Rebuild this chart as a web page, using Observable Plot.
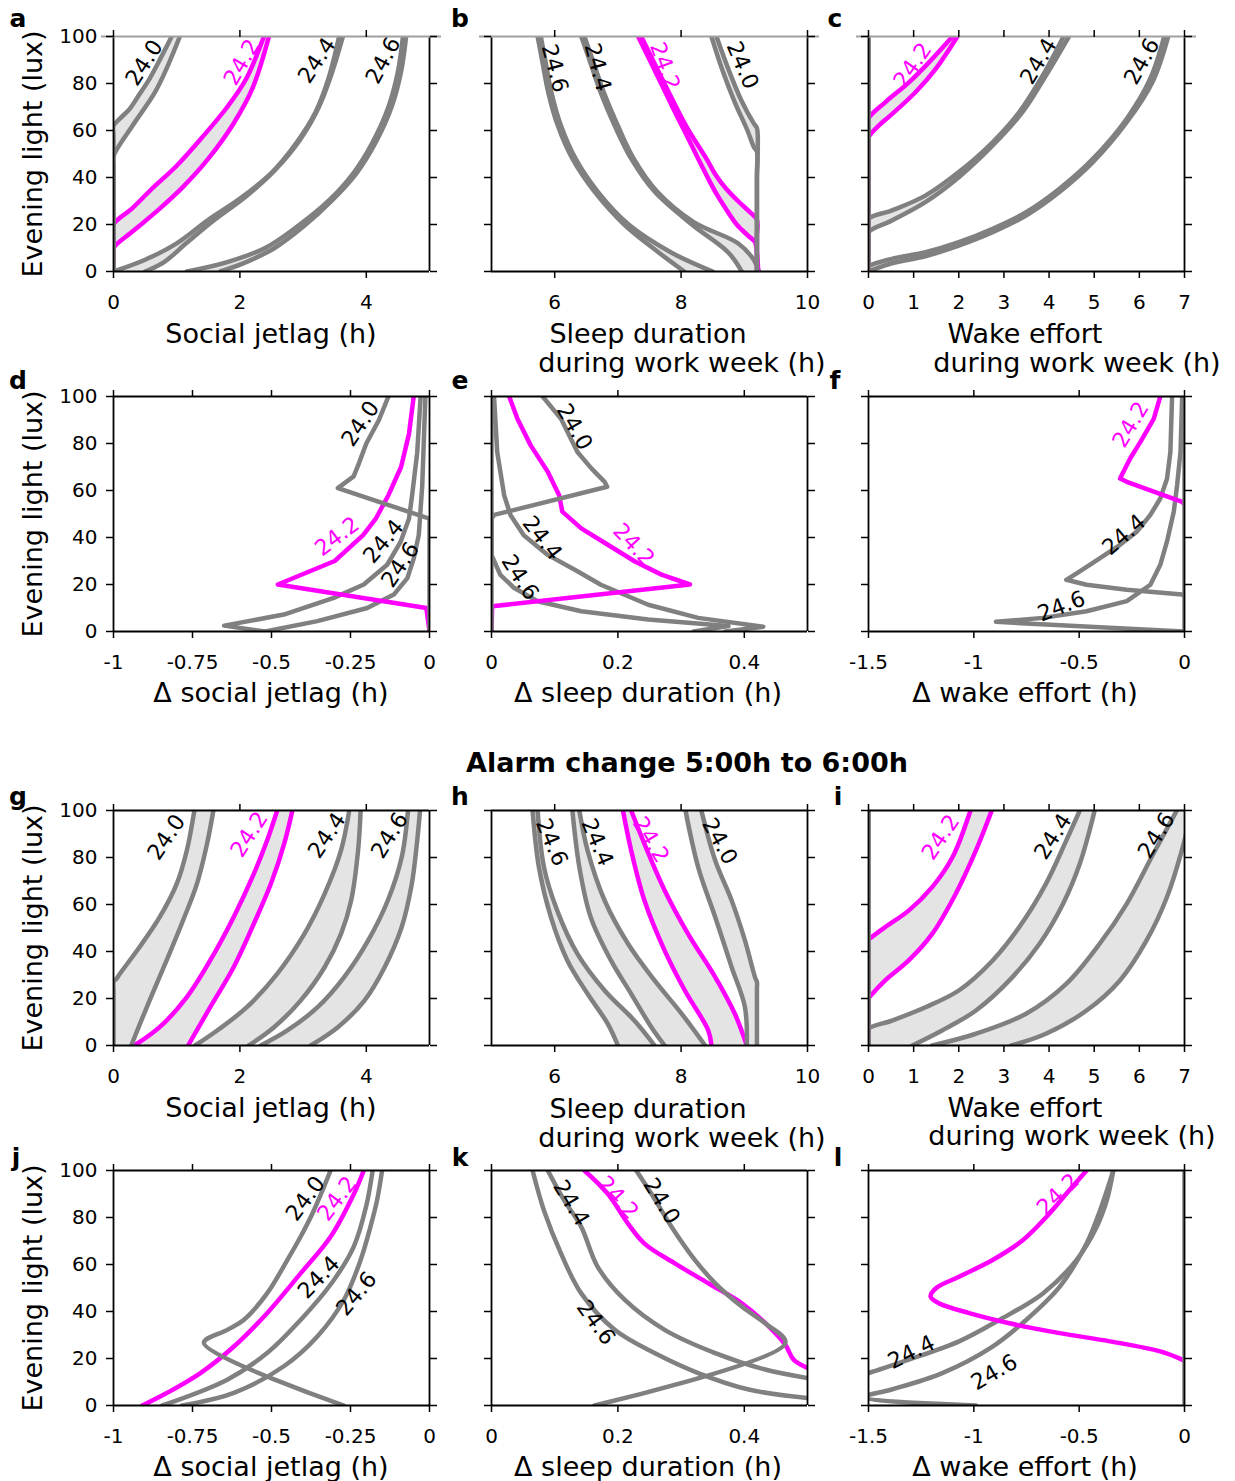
<!DOCTYPE html>
<html><head><meta charset="utf-8">
<script src="https://cdn.jsdelivr.net/npm/d3@7"></script>
<script src="https://cdn.jsdelivr.net/npm/@observablehq/plot@0.6"></script>
<style>
body{margin:0;background:#fff;}
#root{position:relative;width:1235px;height:1481px;background:#fff;font-family:"DejaVu Sans",sans-serif;overflow:hidden;}
.t{position:absolute;white-space:nowrap;transform:translate(-50%,-50%);font-size:27px;color:#000;line-height:1;}
.b{font-weight:bold;}
.L{font-size:25px;}
.p{position:absolute;}
</style></head>
<body><div id="root"></div>
<script>
// ---------- data ----------
const LUX_TICKS = [0, 20, 40, 60, 80, 100];
const LUX_TICK_LABELS = ["0", "20", "40", "60", "80", "100"];
const DRAW_ORDER = ["24.6", "24.4", "24.2", "24.0"];

const ticksSJL = [0, 2, 4], ticksSJLLabels = ["0", "2", "4"];
const ticksSleep = [6, 8, 10], ticksSleepLabels = ["6", "8", "10"];
const ticksWake = [0, 1, 2, 3, 4, 5, 6, 7], ticksWakeLabels = ["0", "1", "2", "3", "4", "5", "6", "7"];
const ticksDSJL = [-1, -0.75, -0.5, -0.25, 0], ticksDSJLLabels = ["-1", "-0.75", "-0.5", "-0.25", "0"];
const ticksDSleep = [0, 0.2, 0.4], ticksDSleepLabels = ["0", "0.2", "0.4"];
const ticksDWake = [-1.5, -1, -0.5, 0], ticksDWakeLabels = ["-1.5", "-1", "-0.5", "0"];

// pairs: [tau, boundary 1 [[x, lux]...], boundary 2]
const panelA = [
  ["24.0", [[0,0],[0,58],[0,62],[0.1,65],[0.25,69],[0.4,75],[0.57,82],[0.75,91],[0.92,100]],
           [[0,0],[0,45],[0,49],[0.3,62],[0.65,76],[0.85,87],[1.05,100]]],
  ["24.2", [[0,0],[0,16],[0,20],[0.3,27],[0.6,35],[1.0,45],[1.4,57],[1.8,70],[2.1,82],[2.38,100]],
           [[0,0],[0,7],[0,10],[0.3,17],[0.7,26],[1.1,36],[1.5,48],[1.9,63],[2.2,78],[2.46,100]]],
  ["24.4", [[0,0],[0.5,5],[1.0,12],[1.5,22],[2.0,31],[2.5,42],[2.9,55],[3.2,68],[3.4,82],[3.57,100]],
           [[0.5,0],[0.8,4],[1.15,12],[1.6,22],[2.1,32],[2.55,43],[2.95,56],[3.25,70],[3.45,84],[3.63,100]]],
  ["24.6", [[1.16,0],[1.8,4],[2.4,10],[2.9,19],[3.4,30],[3.8,42],[4.1,55],[4.35,70],[4.5,85],[4.58,100]],
           [[1.69,0],[2.1,4],[2.55,10],[3.0,19],[3.45,30],[3.85,42],[4.15,55],[4.4,70],[4.55,85],[4.63,100]]]
];
const panelB = [
  ["24.0", [[9.2,0],[9.2,40],[9.2,61],[9.15,63],[8.95,73],[8.75,86],[8.56,100]],
           [[9.2,0],[9.2,40],[9.2,51],[9.15,53],[9.05,60],[8.85,72],[8.65,86],[8.48,100]]],
  ["24.2", [[9.2,0],[9.2,15],[9.2,22],[9.1,25],[8.9,30],[8.72,35],[8.55,41],[8.4,48],[8.12,60],[7.96,68],[7.68,83],[7.37,100]],
           [[9.22,0],[9.2,8],[9.17,12.5],[9.05,15.5],[8.88,20],[8.7,27],[8.56,33],[8.42,40],[8.27,48],[8.05,60],[7.9,68],[7.63,83],[7.32,100]]],
  ["24.4", [[8.96,0],[8.75,8],[8.17,20],[7.58,34],[7.21,48],[6.95,62],[6.73,76],[6.55,90],[6.42,100]],
           [[9.23,0],[9.15,5],[8.9,12],[8.2,21],[7.62,34],[7.25,48],[7.0,62],[6.78,76],[6.6,90],[6.47,100]]],
  ["24.6", [[8.05,0],[7.65,8],[7.1,20],[6.63,34],[6.28,48],[6.05,62],[5.9,76],[5.8,90],[5.73,100]],
           [[8.5,0],[7.85,8],[7.17,20],[6.68,34],[6.33,48],[6.1,62],[5.95,76],[5.85,90],[5.78,100]]]
];
const panelC = [
  ["24.0", [[0,0],[0,100]], [[0,0],[0,100]]],
  ["24.2", [[0,0],[0,60],[0,65],[0.37,72],[0.89,80.4],[1.34,89],[1.86,100]],
           [[0,0],[0,53],[0,57],[0.22,62],[0.52,67],[1.04,76.3],[1.48,86],[1.97,100]]],
  ["24.4", [[0,0],[0,19],[0,22.4],[0.52,26],[1.26,32.3],[2.0,42.3],[2.75,55],[3.34,67.8],[3.86,83.4],[4.32,100]],
           [[0,0],[0,13],[0,16.7],[0.52,21.7],[1.26,29.5],[2.0,40.1],[2.75,53.6],[3.41,67.8],[3.93,83.4],[4.44,100]]],
  ["24.6", [[0,0],[0,2],[0.52,5.4],[1.26,8.2],[2.0,12.5],[2.75,18.2],[3.49,25.2],[4.23,35.2],[4.97,47.9],[5.72,65],[6.24,82],[6.55,100]],
           [[0,0],[0.52,3.5],[1.26,6.5],[2.0,11],[2.75,16.7],[3.49,23.8],[4.23,33.8],[4.97,46.5],[5.72,63.5],[6.3,81],[6.64,100]]]
];
// single curves: [tau, [[x, lux]...]]
const panelD = [
  ["24.0", [[-0.13,100],[-0.16,90],[-0.2,80],[-0.225,71],[-0.24,66],[-0.29,61],[0,48],[0,0]]],
  ["24.2", [[-0.05,100],[-0.065,84],[-0.09,70],[-0.13,58],[-0.17,48],[-0.21,41],[-0.3,30],[-0.48,20],[-0.01,10],[0,0]]],
  ["24.4", [[-0.028,100],[-0.039,76],[-0.055,58],[-0.065,48],[-0.092,38],[-0.134,28.4],[-0.208,20],[-0.303,14.3],[-0.461,7.2],[-0.65,2.5],[-0.52,0]]],
  ["24.6", [[-0.013,100],[-0.023,62],[-0.034,41],[-0.05,31],[-0.07,22.7],[-0.113,15.7],[-0.197,10],[-0.355,4.4],[-0.52,0]]]
];
const panelE = [
  ["24.0", [[0.081,100],[0.11,90.5],[0.136,76.4],[0.158,69.4],[0.179,63.7],[0.183,61.6],[0.004,49.6],[0,48],[0,0]]],
  ["24.2", [[0.028,100],[0.041,90.5],[0.062,79.2],[0.089,68],[0.107,58],[0.112,51],[0.142,43.9],[0.184,36.9],[0.227,29.8],[0.269,24.2],[0.314,20],[0.001,10.7],[0,0]]],
  ["24.4", [[0.004,100],[0.009,76.4],[0.02,58],[0.03,49.6],[0.051,41],[0.089,32.6],[0.136,25.6],[0.173,19.9],[0.248,11.4],[0.327,5.8],[0.43,2],[0.37,0]]],
  ["24.6", [[0,100],[0,32.6],[0.014,24.1],[0.036,18.5],[0.073,12.9],[0.142,8.6],[0.248,5.1],[0.375,2.3],[0.32,0]]]
];
const panelF = [
  ["24.0", [[0,0],[0,100]]],
  ["24.2", [[-0.115,100],[-0.146,90.5],[-0.21,80.6],[-0.258,73.6],[-0.282,69.4],[-0.306,65.1],[-0.274,63.7],[-0.011,55.2],[0,54]]],
  ["24.4", [[-0.059,100],[-0.067,76.4],[-0.083,65],[-0.115,56.6],[-0.162,49.6],[-0.226,42.5],[-0.306,36.9],[-0.401,31.2],[-0.497,25.6],[-0.561,22],[-0.465,19.9],[-0.274,17.8],[-0.011,15.7],[0,15]]],
  ["24.6", [[-0.011,100],[-0.019,76.4],[-0.035,62.3],[-0.051,51],[-0.083,38.3],[-0.115,28.4],[-0.162,19.9],[-0.274,12.9],[-0.465,8.6],[-0.672,5.8],[-0.895,4.1],[0,0]]]
];
const panelG = [
  ["24.0", [[0,0],[0,24],[0,27],[0.05,28.5],[0.1,30.5],[0.41,41.8],[0.73,54.6],[1.0,68.8],[1.16,83],[1.28,100]],
           [[0.28,0],[0.57,19.1],[0.84,36.2],[1.1,53.2],[1.32,68.8],[1.48,85.8],[1.58,100]]],
  ["24.2", [[0.33,0],[0.73,7.8],[1.16,20.6],[1.53,36.2],[1.9,54.6],[2.22,73],[2.43,87.2],[2.59,100]],
           [[1.18,0],[1.53,16.3],[1.9,33.3],[2.22,51.8],[2.49,68.8],[2.7,85.8],[2.83,100]]],
  ["24.4", [[1.29,0],[1.64,6.4],[2.11,16.3],[2.59,30.5],[3.02,47.5],[3.34,64.5],[3.6,83],[3.73,100]],
           [[2.14,0],[2.54,7.8],[2.96,19.1],[3.34,33.3],[3.6,47.5],[3.76,61.7],[3.87,83],[3.91,100]]],
  ["24.6", [[2.33,0],[2.75,6.4],[3.23,16.3],[3.65,29.1],[4.03,44.7],[4.34,61.7],[4.56,80.1],[4.66,100]],
           [[3.12,0],[3.55,7.8],[3.97,19.1],[4.29,33.3],[4.56,50.4],[4.72,68.8],[4.8,85.8],[4.85,100]]]
];
const panelH = [
  ["24.0", [[9.04,0],[9.01,16.3],[8.8,33.3],[8.54,54.6],[8.27,75.9],[8.07,100]],
           [[9.2,0],[9.2,24],[9.2,27],[9.17,29],[9.01,44.7],[8.8,61.7],[8.54,78.7],[8.32,100]]],
  ["24.2", [[8.48,0],[8.43,6.4],[8.06,23.4],[7.74,40.4],[7.42,61.7],[7.21,83],[7.08,100]],
           [[9.04,0],[8.85,13.5],[8.54,29.1],[8.11,47.5],[7.74,66],[7.42,85.8],[7.21,100]]],
  ["24.4", [[7.74,0],[7.53,7.8],[7.21,22],[6.89,36.2],[6.57,54.6],[6.39,75.9],[6.28,100]],
           [[8.38,0],[8.01,13.5],[7.58,27.7],[7.16,43.3],[6.79,61.7],[6.52,83],[6.39,100]]],
  ["24.6", [[7.0,0],[6.84,9.2],[6.52,22],[6.2,36.2],[5.94,54.6],[5.75,75.9],[5.65,100]],
           [[7.58,0],[7.26,10.6],[6.79,23.4],[6.36,39],[6.04,57.4],[5.83,75.9],[5.73,100]]]
];
const panelI = [
  ["24.0", [[0,0],[0,100]], [[0,0],[0,100]]],
  ["24.2", [[0,0],[0,41],[0,45],[0.06,46],[0.37,50.4],[0.89,57.4],[1.41,67.4],[1.86,80.1],[2.26,100]],
           [[0,0],[0,16],[0,20],[0.04,21],[0.37,27.7],[0.89,36.2],[1.41,47.5],[1.93,64.5],[2.38,83],[2.73,100]]],
  ["24.4", [[0,0],[0,4.5],[0,7.1],[0.52,10.6],[1.26,16.3],[2.0,23.4],[2.75,36.2],[3.34,50.4],[3.93,68.8],[4.38,87.2],[4.68,100]],
           [[0.97,0],[1.63,6.4],[2.38,14.9],[3.12,27.7],[3.79,43.3],[4.31,60.3],[4.68,77.3],[5.01,100]]],
  ["24.6", [[1.41,0],[2.38,5],[3.49,13.5],[4.38,26.2],[5.12,43.3],[5.72,60.3],[6.31,81.6],[6.83,100]],
           [[3.16,0],[3.93,5],[4.83,14.9],[5.57,27.7],[6.16,44.7],[6.61,63.1],[6.98,85.8],[7.15,100]]]
];
const panelJ = [
  ["24.0", [[-0.313,100],[-0.366,83],[-0.408,71.8],[-0.45,61.9],[-0.514,47.7],[-0.588,36.4],[-0.64,32.2],[-0.714,26.6],[-0.271,0]]],
  ["24.2", [[-0.208,100],[-0.239,90.1],[-0.313,71.8],[-0.408,56.2],[-0.514,39.3],[-0.619,25.1],[-0.725,13.8],[-0.83,5.4],[-0.909,0]]],
  ["24.4", [[-0.18,100],[-0.2,85],[-0.24,67.5],[-0.31,52],[-0.408,36.4],[-0.514,22.3],[-0.64,11],[-0.846,0]]],
  ["24.6", [[-0.15,100],[-0.166,87.3],[-0.187,76],[-0.218,61.9],[-0.271,44.9],[-0.355,29.4],[-0.461,16.7],[-0.619,5.4],[-0.783,0]]]
];
const panelK = [
  ["24.0", [[0.229,100],[0.253,90.1],[0.285,76],[0.322,61.9],[0.354,52],[0.396,42.1],[0.433,35],[0.465,26.6],[0.163,0]]],
  ["24.2", [[0.147,100],[0.184,90.1],[0.216,77.4],[0.242,68.9],[0.29,60.5],[0.343,52],[0.396,43.5],[0.439,33.6],[0.465,25.8],[0.478,19.5],[0.5,16]]],
  ["24.4", [[0.089,100],[0.115,87.3],[0.142,76],[0.168,59],[0.211,44.9],[0.274,32.2],[0.354,22.3],[0.433,15.3],[0.5,11.7]]],
  ["24.6", [[0.065,100],[0.083,83],[0.11,64.7],[0.142,47.7],[0.195,32.2],[0.258,22.3],[0.327,13.8],[0.407,6.8],[0.5,3.2]]]
];
const panelL = [
  ["24.0", [[0,0],[0,100]]],
  ["24.2", [[-0.465,100],[-0.561,90.1],[-0.656,80.2],[-0.768,70.3],[-0.911,61.9],[-1.07,54.8],[-1.18,49.9],[-1.205,46.3],[-1.166,43.5],[-1.022,39.3],[-0.831,35],[-0.592,30.8],[-0.354,27.3],[-0.115,23],[-0.011,19.5],[0,19]]],
  ["24.4", [[-0.338,100],[-0.369,87.3],[-0.417,76],[-0.513,61.9],[-0.672,47.7],[-0.879,36.4],[-1.07,27.3],[-1.309,19.5],[-1.5,13.8],[-1.6,11.5]]],
  ["24.6", [[-0.338,100],[-0.401,83],[-0.465,68.9],[-0.592,50.6],[-0.752,36.4],[-0.911,25.1],[-1.15,13.8],[-1.39,6.8],[-1.53,3.4],[-0.99,0]]]
];

// curve labels: [tau, x, lux, angle]
const labelsA = [["24.0",0.49,88.8,-57],["24.2",2.03,89,-60],["24.4",3.22,89.8,-56],["24.6",4.27,89.8,-62]];
const labelsB = [["24.6",6.0,86.5,75],["24.4",6.68,86.9,75],["24.2",7.74,87.4,70],["24.0",8.97,87.7,67]];
const labelsC = [["24.2",0.98,87.7,-55],["24.4",3.77,89.4,-59],["24.6",6.06,89.4,-61]];
const labelsD = [["24.0",-0.218,88.4,-56],["24.2",-0.292,40.4,-37],["24.4",-0.145,38.3,-50],["24.6",-0.092,28.4,-56]];
const labelsE = [["24.0",0.131,87,60],["24.2",0.225,36.9,47],["24.4",0.08,39.7,52],["24.6",0.045,23,57]];
const labelsF = [["24.2",-0.255,88,-59],["24.4",-0.287,41.1,-41],["24.6",-0.584,10.7,-21]];
const labelsG = [["24.0",0.84,88.6,-56],["24.2",2.15,89.8,-57],["24.4",3.38,89.4,-56],["24.6",4.37,89.4,-58]];
const labelsH = [["24.6",5.95,86.5,67],["24.4",6.67,86.5,67],["24.2",7.52,87.5,59],["24.0",8.61,86.9,61]];
const labelsI = [["24.2",1.6,88.6,-56],["24.4",4.09,88.9,-57],["24.6",6.38,89.4,-58]];
const labelsJ = [["24.0",-0.392,88,-53],["24.2",-0.292,88,-53],["24.4",-0.35,54.5,-46],["24.6",-0.231,47.5,-50]];
const labelsK = [["24.4",0.126,86.1,59],["24.2",0.2,88.4,48],["24.0",0.269,87,59],["24.6",0.165,35.3,54]];
const labelsL = [["24.2",-0.6,89.8,-44],["24.4",-1.296,22.6,-26],["24.6",-0.903,14.1,-30]];

// ---------- layout ----------
const COL_X = [113, 491, 868];
const ROW_Y = [36, 396, 810, 1170];
const FW = 316, FH = 235;
const GREY = "#808080", MAG = "#ff00ff", FILL = "#e4e4e4";
const LW = 4.5;

const root = document.getElementById("root");

function panel(p) {
  const ml = p.col === 0 ? 100 : 25, mr = 25, mt = 15, mb = 50;
  const marks = [];
  const ord = t => DRAW_ORDER.indexOf(t);
  const X = d => d[0], Y = d => d[1];
  const [d0, d1] = p.xDomain;
  if (p.pairs) {
    const pairs = [...p.pairs].sort((a, b) => ord(a[0]) - ord(b[0]));
    for (const [tau, h, l] of pairs)
      marks.push(Plot.line(h.concat(l.slice().reverse()), {x: X, y: Y, fill: FILL, stroke: "none", curve: "catmull-rom", clip: true}));
    for (const [tau, h, l] of pairs)
      for (const c of [h, l])
        marks.push(Plot.line(c, {x: X, y: Y, stroke: tau === "24.2" ? MAG : GREY, strokeWidth: LW, curve: "catmull-rom", clip: true}));
  }
  if (p.singles) {
    const s = [...p.singles].sort((a, b) => ord(a[0]) - ord(b[0]));
    for (const [tau, c] of s)
      marks.push(Plot.line(c, {x: X, y: Y, stroke: tau === "24.2" ? MAG : GREY, strokeWidth: LW, curve: p.curve || "linear", clip: true}));
  }
  const lab = p.labels;
  marks.push(Plot.text(lab.filter(d => d[0] !== "24.2"), {x: d => d[1], y: d => d[2], text: d => d[0], rotate: d => d[3], fill: "black", fontSize: 22}));
  marks.push(Plot.text(lab.filter(d => d[0] === "24.2"), {x: d => d[1], y: d => d[2], text: d => d[0], rotate: d => d[3], fill: MAG, fontSize: 22}));
  // frame
  marks.push(Plot.ruleX([d0, d1], {stroke: "black", strokeWidth: 1.8}));
  marks.push(Plot.ruleY([0], {stroke: "black", strokeWidth: 1.8}));
  if (p.greyTop) {
    const e = 12 / FW * (d1 - d0);
    marks.push(Plot.ruleY([100], {x1: d0 - e, x2: d1 + e, stroke: "#a0a0a0", strokeWidth: 1.8}));
  } else {
    marks.push(Plot.ruleY([100], {stroke: "black", strokeWidth: 1.8}));
  }
  // axes
  const fmt = d => p.xTickLabels[p.xTicks.indexOf(d)];
  marks.push(Plot.axisX(p.xTicks, {anchor: "bottom", tickSize: 7, tickPadding: 16, tickFormat: fmt, fontSize: 20, label: null, strokeWidth: 1.5}));
  marks.push(Plot.axisX(p.xTicks, {anchor: "top", tickSize: 7, tickFormat: () => "", label: null, strokeWidth: 1.5}));
  marks.push(Plot.axisY(LUX_TICKS, {anchor: "left", tickSize: 7, tickPadding: 9,
    tickFormat: p.col === 0 ? (d => LUX_TICK_LABELS[LUX_TICKS.indexOf(d)]) : () => "", fontSize: 20, label: null, strokeWidth: 1.5}));
  marks.push(Plot.axisY(LUX_TICKS, {anchor: "right", tickSize: 7, tickFormat: () => "", label: null, strokeWidth: 1.5}));

  const svg = Plot.plot({
    width: ml + FW + mr, height: mt + FH + mb,
    marginLeft: ml, marginRight: mr, marginTop: mt, marginBottom: mb,
    x: {domain: p.xDomain},
    y: {domain: [0, 100]},
    style: {background: "transparent", fontFamily: "DejaVu Sans, sans-serif", fontSize: "20px", color: "black", overflow: "visible"},
    marks
  });
  const wrap = document.createElement("div");
  wrap.className = "p";
  wrap.style.left = (COL_X[p.col] - ml) + "px";
  wrap.style.top = (ROW_Y[p.row] - mt) + "px";
  wrap.appendChild(svg);
  root.appendChild(wrap);
}

panel({row: 0, col: 0, xDomain: [0, 5], xTicks: ticksSJL, xTickLabels: ticksSJLLabels, pairs: panelA, labels: labelsA, greyTop: true});
panel({row: 0, col: 1, xDomain: [5, 10], xTicks: ticksSleep, xTickLabels: ticksSleepLabels, pairs: panelB, labels: labelsB, greyTop: true});
panel({row: 0, col: 2, xDomain: [0, 7], xTicks: ticksWake, xTickLabels: ticksWakeLabels, pairs: panelC, labels: labelsC, greyTop: true});
panel({row: 1, col: 0, xDomain: [-1, 0], xTicks: ticksDSJL, xTickLabels: ticksDSJLLabels, singles: panelD, labels: labelsD});
panel({row: 1, col: 1, xDomain: [0, 0.5], xTicks: ticksDSleep, xTickLabels: ticksDSleepLabels, singles: panelE, labels: labelsE});
panel({row: 1, col: 2, xDomain: [-1.5, 0], xTicks: ticksDWake, xTickLabels: ticksDWakeLabels, singles: panelF, labels: labelsF});
panel({row: 2, col: 0, xDomain: [0, 5], xTicks: ticksSJL, xTickLabels: ticksSJLLabels, pairs: panelG, labels: labelsG});
panel({row: 2, col: 1, xDomain: [5, 10], xTicks: ticksSleep, xTickLabels: ticksSleepLabels, pairs: panelH, labels: labelsH});
panel({row: 2, col: 2, xDomain: [0, 7], xTicks: ticksWake, xTickLabels: ticksWakeLabels, pairs: panelI, labels: labelsI});
panel({row: 3, col: 0, xDomain: [-1, 0], xTicks: ticksDSJL, xTickLabels: ticksDSJLLabels, singles: panelJ, labels: labelsJ, curve: "catmull-rom"});
panel({row: 3, col: 1, xDomain: [0, 0.5], xTicks: ticksDSleep, xTickLabels: ticksDSleepLabels, singles: panelK, labels: labelsK, curve: "catmull-rom"});
panel({row: 3, col: 2, xDomain: [-1.5, 0], xTicks: ticksDWake, xTickLabels: ticksDWakeLabels, singles: panelL, labels: labelsL, curve: "catmull-rom"});

// ---------- html text ----------
function txt(s, cx, cy, cls, rot) {
  const d = document.createElement("div");
  d.className = "t" + (cls ? " " + cls : "");
  d.textContent = s;
  d.style.left = cx + "px";
  d.style.top = cy + "px";
  if (rot) d.style.transform = "translate(-50%,-50%) rotate(" + rot + "deg)";
  root.appendChild(d);
}
const panelLetters = [["a",18,18],["b",460,18],["c",835,18],["d",18,380],["e",460,380],["f",835,380],
  ["g",18,796],["h",460,796],["i",838,796],["j",16,1157],["k",460,1157],["l",838,1157]];
for (const [s, x, y] of panelLetters) txt(s, x, y, "b L");
const yTitle = "Evening light (lux)";
for (const r of [0, 1, 2, 3]) txt(yTitle, 32, ROW_Y[r] + FH / 2, "", -90);
txt("Social jetlag (h)", 271, 333); txt("Sleep duration", 648, 333); txt("during work week (h)", 682, 362);
txt("Wake effort", 1025, 333); txt("during work week (h)", 1077, 362);
txt("Δ social jetlag (h)", 271, 692); txt("Δ sleep duration (h)", 648, 692); txt("Δ wake effort (h)", 1025, 692);
txt("Alarm change 5:00h to 6:00h", 687, 762, "b");
txt("Social jetlag (h)", 271, 1107); txt("Sleep duration", 648, 1108); txt("during work week (h)", 682, 1137);
txt("Wake effort", 1025, 1107); txt("during work week (h)", 1072, 1135);
txt("Δ social jetlag (h)", 271, 1466); txt("Δ sleep duration (h)", 648, 1466); txt("Δ wake effort (h)", 1025, 1466);
</script></body></html>
